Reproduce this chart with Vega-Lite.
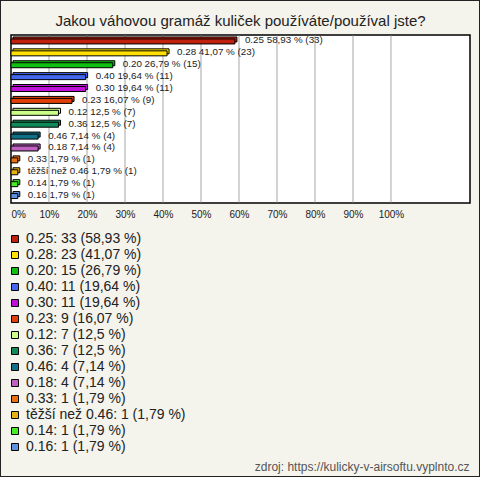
{
  "$schema": "https://vega.github.io/schema/vega-lite/v6.json",
  "width": 480,
  "height": 477,
  "autosize": {"type": "none"},
  "padding": 0,
  "background": "#f4f3ec",
  "config": {
    "view": {"fill": "#f4f3ec", "stroke": "#222222", "strokeWidth": 2},
    "font": "Liberation Sans"
  },
  "layer": [
    {
      "data": {"values": [{"a": 0}]},
      "mark": {"type": "rect", "fill": "white", "stroke": "black", "strokeWidth": 1.5},
      "encoding": {
        "x": {"datum": 0, "type": "quantitative", "scale": {"domain": [0, 120.8], "range": [11, 470], "nice": false}},
        "x2": {"datum": 120.8},
        "y": {"datum": 0, "type": "quantitative", "scale": {"domain": [0, 1], "range": [35, 203], "nice": false},
              "axis": {
                "orient": "left", "domain": false, "ticks": false, "labels": false, "grid": false,
                "title": "Jakou váhovou gramáž kuliček používáte/používal jste?",
                "titleAngle": 0, "titleX": 240, "titleY": 25, "titleAlign": "center", "titleAnchor": null,
                "titleBaseline": "alphabetic", "titleFont": "Liberation Sans", "titleFontSize": 15,
                "titleFontWeight": "normal", "titleColor": "#222222"
              }},
        "y2": {"datum": 1}
      }
    },
    {
      "data": {"values": [{"t": 10}, {"t": 20}, {"t": 30}, {"t": 40}, {"t": 50}, {"t": 60}, {"t": 70}, {"t": 80}, {"t": 90}, {"t": 100}]},
      "mark": {"type": "rule", "stroke": "#c4c4c4", "strokeWidth": 1.5},
      "encoding": {
        "x": {"field": "t", "type": "quantitative", "scale": {"domain": [0, 120.8], "range": [11, 470], "nice": false}},
        "y": {"datum": 0, "type": "quantitative", "scale": {"domain": [0, 1], "range": [35.7, 202.3], "nice": false}, "axis": null},
        "y2": {"datum": 1}
      }
    },
    {
      "data": {"name": "bars", "values": [
        {"name": "0.25", "pct": 58.93, "legend": "0.25: 33 (58,93 %)", "barlabel": "0.25 58,93 % (33)"},
        {"name": "0.28", "pct": 41.07, "legend": "0.28: 23 (41,07 %)", "barlabel": "0.28 41,07 % (23)"},
        {"name": "0.20", "pct": 26.79, "legend": "0.20: 15 (26,79 %)", "barlabel": "0.20 26,79 % (15)"},
        {"name": "0.40", "pct": 19.64, "legend": "0.40: 11 (19,64 %)", "barlabel": "0.40 19,64 % (11)"},
        {"name": "0.30", "pct": 19.64, "legend": "0.30: 11 (19,64 %)", "barlabel": "0.30 19,64 % (11)"},
        {"name": "0.23", "pct": 16.07, "legend": "0.23: 9 (16,07 %)", "barlabel": "0.23 16,07 % (9)"},
        {"name": "0.12", "pct": 12.5, "legend": "0.12: 7 (12,5 %)", "barlabel": "0.12 12,5 % (7)"},
        {"name": "0.36", "pct": 12.5, "legend": "0.36: 7 (12,5 %)", "barlabel": "0.36 12,5 % (7)"},
        {"name": "0.46", "pct": 7.14, "legend": "0.46: 4 (7,14 %)", "barlabel": "0.46 7,14 % (4)"},
        {"name": "0.18", "pct": 7.14, "legend": "0.18: 4 (7,14 %)", "barlabel": "0.18 7,14 % (4)"},
        {"name": "0.33", "pct": 1.79, "legend": "0.33: 1 (1,79 %)", "barlabel": "0.33 1,79 % (1)"},
        {"name": "těžší než 0.46", "pct": 1.79, "legend": "těžší než 0.46: 1 (1,79 %)", "barlabel": "těžší než 0.46 1,79 % (1)"},
        {"name": "0.14", "pct": 1.79, "legend": "0.14: 1 (1,79 %)", "barlabel": "0.14 1,79 % (1)"},
        {"name": "0.16", "pct": 1.79, "legend": "0.16: 1 (1,79 %)", "barlabel": "0.16 1,79 % (1)"}
      ]},
      "encoding": {
        "y": {"field": "name", "type": "nominal", "sort": null, "axis": null,
              "scale": {"range": [35.5, 202], "paddingInner": 0, "paddingOuter": 0}},
        "x": {"field": "pct", "type": "quantitative",
              "scale": {"domain": [0, 120.8], "range": [11, 470], "nice": false},
              "axis": {
                "values": [0, 10, 20, 30, 40, 50, 60, 70, 80, 90, 100],
                "labelExpr": "datum.value + '%'",
                "grid": false, "ticks": false, "domain": false,
                "offset": -274, "labelPadding": 6, "labelFlush": true,
                "labelFont": "Liberation Sans", "labelFontSize": 10, "labelColor": "#222222",
                "title": "zdroj: https://kulicky-v-airsoftu.vyplnto.cz",
                "titleX": 469, "titleY": 263, "titleAlign": "right", "titleAnchor": null,
                "titleBaseline": "middle", "titleFont": "Liberation Sans", "titleFontSize": 12,
                "titleFontWeight": "normal", "titleColor": "#555555"
              }}
      },
      "layer": [
        {
          "mark": {"type": "bar", "height": 5, "xOffset": 2, "yOffset": -2, "stroke": "black", "strokeWidth": 1, "opacity": 1},
          "encoding": {
            "color": {"field": "legend", "type": "nominal", "sort": null,
              "scale": {
                "domain": ["0.25: 33 (58,93 %)", "0.28: 23 (41,07 %)", "0.20: 15 (26,79 %)", "0.40: 11 (19,64 %)", "0.30: 11 (19,64 %)", "0.23: 9 (16,07 %)", "0.12: 7 (12,5 %)", "0.36: 7 (12,5 %)", "0.46: 4 (7,14 %)", "0.18: 4 (7,14 %)", "0.33: 1 (1,79 %)", "těžší než 0.46: 1 (1,79 %)", "0.14: 1 (1,79 %)", "0.16: 1 (1,79 %)"],
                "range": ["#c0200e", "#ffe000", "#10c010", "#4466ee", "#c010d8", "#e04008", "#ccff88", "#108a58", "#107088", "#c060c0", "#e87010", "#e8b010", "#44ee22", "#6090e0"]
              },
              "legend": {
                "orient": "none", "legendX": 8, "legendY": 232, "title": null,
                "symbolType": "square", "symbolSize": 49, "symbolStrokeColor": "black", "symbolStrokeWidth": 1,
                "symbolOpacity": 1,
                "labelFont": "Liberation Sans", "labelFontSize": 14, "labelColor": "#222222",
                "labelOffset": 4, "labelLimit": 400, "rowPadding": 2
              }}
          }
        },
        {
          "mark": {"type": "bar", "height": 5, "stroke": "black", "strokeWidth": 1, "opacity": 1},
          "encoding": {
            "color": {"field": "legend", "type": "nominal", "sort": null}
          }
        },
        {
          "mark": {"type": "text", "align": "left", "baseline": "middle", "dx": 10, "dy": -1, "font": "Liberation Sans", "fontSize": 9.8, "color": "#222222"},
          "encoding": {
            "text": {"field": "barlabel"}
          }
        }
      ]
    }
  ],
  "resolve": {"scale": {"y": "independent"}}
}
